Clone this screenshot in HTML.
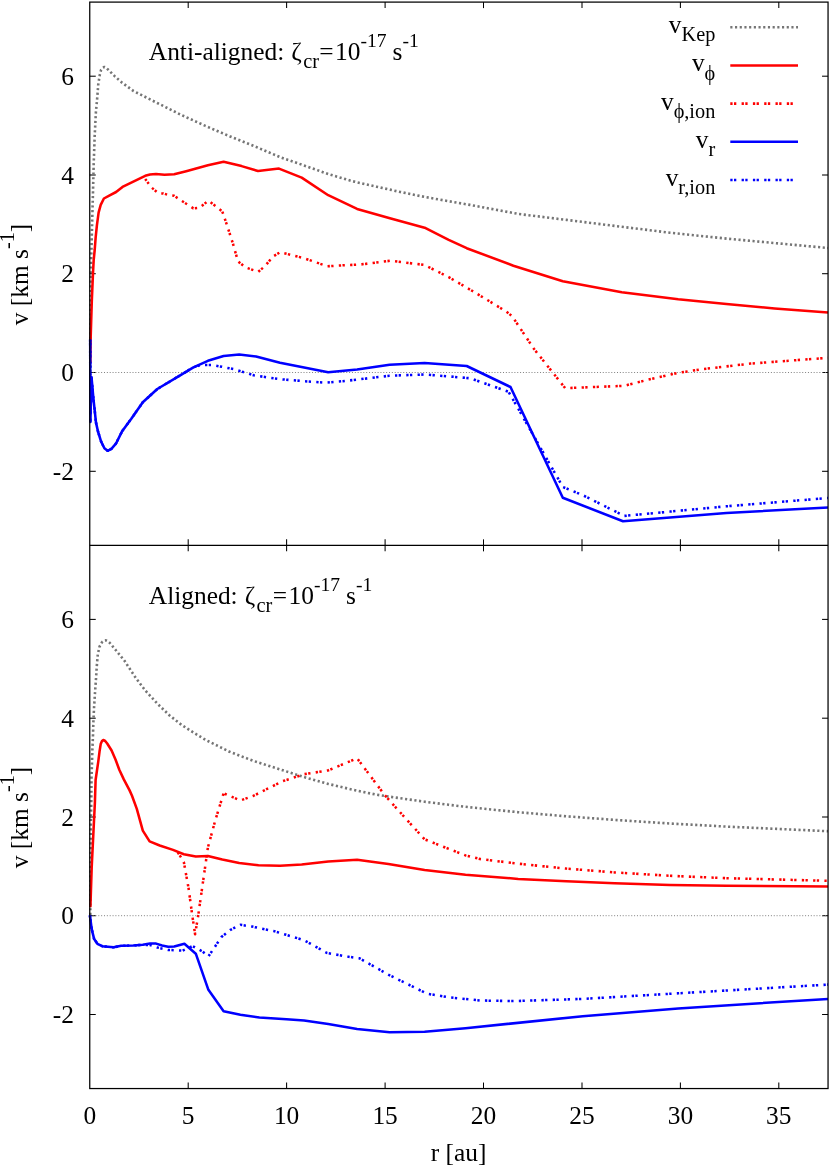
<!DOCTYPE html>
<html><head><meta charset="utf-8"><title>plot</title>
<style>
html,body{margin:0;padding:0;background:#fff;}
svg{display:block;}
text{font-family:"Liberation Serif",serif;fill:#000;}
svg{will-change:transform;}
</style></head><body>
<svg width="830" height="1170" viewBox="0 0 830 1170">
<rect x="0" y="0" width="830" height="1170" fill="#fff"/>
<defs><clipPath id="c1"><rect x="87" y="0" width="743" height="547"/></clipPath>
<clipPath id="c2"><rect x="87" y="543" width="743" height="548"/></clipPath></defs>

<line x1="188.2" y1="2.1" x2="188.2" y2="8.1" stroke="#000" stroke-width="1.05"/>
<line x1="188.2" y1="539.35" x2="188.2" y2="551.35" stroke="#000" stroke-width="1.05"/>
<line x1="188.2" y1="1082.55" x2="188.2" y2="1088.55" stroke="#000" stroke-width="1.05"/>
<line x1="286.6" y1="2.1" x2="286.6" y2="8.1" stroke="#000" stroke-width="1.05"/>
<line x1="286.6" y1="539.35" x2="286.6" y2="551.35" stroke="#000" stroke-width="1.05"/>
<line x1="286.6" y1="1082.55" x2="286.6" y2="1088.55" stroke="#000" stroke-width="1.05"/>
<line x1="385.1" y1="2.1" x2="385.1" y2="8.1" stroke="#000" stroke-width="1.05"/>
<line x1="385.1" y1="539.35" x2="385.1" y2="551.35" stroke="#000" stroke-width="1.05"/>
<line x1="385.1" y1="1082.55" x2="385.1" y2="1088.55" stroke="#000" stroke-width="1.05"/>
<line x1="483.5" y1="2.1" x2="483.5" y2="8.1" stroke="#000" stroke-width="1.05"/>
<line x1="483.5" y1="539.35" x2="483.5" y2="551.35" stroke="#000" stroke-width="1.05"/>
<line x1="483.5" y1="1082.55" x2="483.5" y2="1088.55" stroke="#000" stroke-width="1.05"/>
<line x1="582.0" y1="2.1" x2="582.0" y2="8.1" stroke="#000" stroke-width="1.05"/>
<line x1="582.0" y1="539.35" x2="582.0" y2="551.35" stroke="#000" stroke-width="1.05"/>
<line x1="582.0" y1="1082.55" x2="582.0" y2="1088.55" stroke="#000" stroke-width="1.05"/>
<line x1="680.4" y1="2.1" x2="680.4" y2="8.1" stroke="#000" stroke-width="1.05"/>
<line x1="680.4" y1="539.35" x2="680.4" y2="551.35" stroke="#000" stroke-width="1.05"/>
<line x1="680.4" y1="1082.55" x2="680.4" y2="1088.55" stroke="#000" stroke-width="1.05"/>
<line x1="778.8" y1="2.1" x2="778.8" y2="8.1" stroke="#000" stroke-width="1.05"/>
<line x1="778.8" y1="539.35" x2="778.8" y2="551.35" stroke="#000" stroke-width="1.05"/>
<line x1="778.8" y1="1082.55" x2="778.8" y2="1088.55" stroke="#000" stroke-width="1.05"/>
<line x1="89.75" y1="76.2" x2="95.75" y2="76.2" stroke="#000" stroke-width="1.05"/>
<line x1="822.05" y1="76.2" x2="828.05" y2="76.2" stroke="#000" stroke-width="1.05"/>
<text x="74" y="84.9" font-size="25.4" text-anchor="end">6</text>
<line x1="89.75" y1="175.0" x2="95.75" y2="175.0" stroke="#000" stroke-width="1.05"/>
<line x1="822.05" y1="175.0" x2="828.05" y2="175.0" stroke="#000" stroke-width="1.05"/>
<text x="74" y="183.7" font-size="25.4" text-anchor="end">4</text>
<line x1="89.75" y1="273.7" x2="95.75" y2="273.7" stroke="#000" stroke-width="1.05"/>
<line x1="822.05" y1="273.7" x2="828.05" y2="273.7" stroke="#000" stroke-width="1.05"/>
<text x="74" y="282.4" font-size="25.4" text-anchor="end">2</text>
<line x1="89.75" y1="372.5" x2="95.75" y2="372.5" stroke="#000" stroke-width="1.05"/>
<line x1="822.05" y1="372.5" x2="828.05" y2="372.5" stroke="#000" stroke-width="1.05"/>
<text x="74" y="381.2" font-size="25.4" text-anchor="end">0</text>
<line x1="89.75" y1="471.3" x2="95.75" y2="471.3" stroke="#000" stroke-width="1.05"/>
<line x1="822.05" y1="471.3" x2="828.05" y2="471.3" stroke="#000" stroke-width="1.05"/>
<text x="74" y="480.0" font-size="25.4" text-anchor="end">-2</text>
<line x1="89.75" y1="619.4" x2="95.75" y2="619.4" stroke="#000" stroke-width="1.05"/>
<line x1="822.05" y1="619.4" x2="828.05" y2="619.4" stroke="#000" stroke-width="1.05"/>
<text x="74" y="628.1" font-size="25.4" text-anchor="end">6</text>
<line x1="89.75" y1="718.2" x2="95.75" y2="718.2" stroke="#000" stroke-width="1.05"/>
<line x1="822.05" y1="718.2" x2="828.05" y2="718.2" stroke="#000" stroke-width="1.05"/>
<text x="74" y="726.9" font-size="25.4" text-anchor="end">4</text>
<line x1="89.75" y1="817.0" x2="95.75" y2="817.0" stroke="#000" stroke-width="1.05"/>
<line x1="822.05" y1="817.0" x2="828.05" y2="817.0" stroke="#000" stroke-width="1.05"/>
<text x="74" y="825.7" font-size="25.4" text-anchor="end">2</text>
<line x1="89.75" y1="915.7" x2="95.75" y2="915.7" stroke="#000" stroke-width="1.05"/>
<line x1="822.05" y1="915.7" x2="828.05" y2="915.7" stroke="#000" stroke-width="1.05"/>
<text x="74" y="924.4" font-size="25.4" text-anchor="end">0</text>
<line x1="89.75" y1="1014.5" x2="95.75" y2="1014.5" stroke="#000" stroke-width="1.05"/>
<line x1="822.05" y1="1014.5" x2="828.05" y2="1014.5" stroke="#000" stroke-width="1.05"/>
<text x="74" y="1023.2" font-size="25.4" text-anchor="end">-2</text>
<g clip-path="url(#c1)">
<line x1="89.75" y1="372.5" x2="828.05" y2="372.5" stroke="#808080" stroke-width="1" stroke-dasharray="1 1.85"/>
<polyline points="90.3,372.0 90.6,320.0 90.9,282.0 91.2,258.0 91.5,248.5 92.2,220.3 93.0,192.0 93.7,163.8 94.7,135.6 95.9,112.2 97.2,98.0 98.3,83.9 99.9,74.3 101.1,69.8 102.7,67.8 104.4,67.0 106.3,68.0 108.3,69.8 114.9,76.4 122.1,82.7 133.6,91.1 157.3,103.0 181.4,115.0 205.5,125.9 229.6,136.3 253.7,145.9 280.0,157.1 304.1,165.5 328.2,174.0 352.3,181.2 376.4,186.7 400.5,192.0 424.6,196.9 448.7,201.2 470.0,204.9 518.2,213.9 566.4,219.9 614.6,225.9 670.0,232.7 726.4,238.6 828.0,248.0" fill="none" stroke="#757575" stroke-width="2.6" stroke-linejoin="round" stroke-dasharray="2.15 2.55"/>
<polyline points="90.3,363.0 90.6,339.7 91.8,301.3 93.0,273.0 93.7,260.0 94.7,250.0 95.6,238.2 96.9,225.4 98.6,212.6 100.7,204.9 103.9,198.5 109.7,195.3 116.1,192.0 122.5,186.9 145.2,175.8 150.0,174.6 156.0,174.1 164.5,174.8 174.2,174.3 186.2,171.2 207.9,165.2 223.6,161.8 241.6,166.1 258.0,171.0 279.0,168.6 301.7,177.6 328.2,195.2 357.1,208.9 390.8,218.6 424.6,227.7 448.7,239.8 466.7,248.2 513.4,265.7 562.8,281.3 621.8,292.2 678.2,299.3 726.4,304.1 774.6,308.4 828.0,312.5" fill="none" stroke="#ff0000" stroke-width="2.55" stroke-linejoin="round" />
<polyline points="145.2,178.9 151.3,187.3 158.5,193.4 163.3,193.4 169.3,195.3 174.2,195.8 180.2,199.9 193.4,208.3 199.5,207.8 208.4,200.6 216.3,206.6 222.3,211.4 227.2,225.9 233.2,244.5 238.0,261.3 245.2,267.3 258.3,271.8 265.0,266.1 273.0,256.5 280.2,252.2 304.1,258.2 327.5,266.3 342.7,265.3 359.5,264.6 390.8,260.7 424.6,265.0 448.7,277.1 473.6,291.7 506.1,311.4 512.2,316.3 533.9,348.8 565.2,388.2 624.2,385.8 646.9,380.0 678.2,372.8 702.3,369.2 750.5,363.6 828.0,357.8" fill="none" stroke="#ff0000" stroke-width="2.55" stroke-linejoin="round" stroke-dasharray="2.3 1.4 2.3 5.3"/>
<polyline points="90.2,339.4 90.4,422.0 91.5,377.0 93.4,398.4 96.0,422.6 98.0,431.5 101.2,441.8 104.4,448.2 107.6,450.8 111.4,448.8 115.9,443.7 122.3,430.9 131.3,418.7 142.8,402.3 157.3,389.0 181.4,374.6 193.4,367.3 207.9,360.8 223.6,356.0 239.2,354.6 256.1,356.5 280.0,362.7 328.2,372.3 357.1,369.6 389.6,364.8 424.6,363.1 466.7,366.0 510.5,387.0 562.8,497.8 623.0,521.2 670.0,517.5 726.4,513.0 828.0,507.5" fill="none" stroke="#0000ff" stroke-width="2.55" stroke-linejoin="round" />
<polyline points="90.2,339.4 90.4,422.0 91.5,377.0 93.4,398.4 96.0,422.6 98.0,431.5 101.2,441.8 104.4,448.2 107.6,450.8 111.4,448.8 115.9,443.7 122.3,430.9 131.3,418.7 142.8,402.3 157.3,389.0 181.4,374.6 193.4,367.3 200.7,365.0 212.7,365.0 234.4,369.3 253.7,375.3 268.1,377.5 282.6,379.4 304.1,381.2 325.8,382.7 342.7,381.2 359.5,379.3 389.6,375.7 424.6,374.5 448.7,376.4 470.4,378.3 508.6,391.8 562.8,487.0 583.3,495.4 624.2,515.9 670.0,511.6 726.4,506.3 828.0,498.0" fill="none" stroke="#0000ff" stroke-width="2.55" stroke-linejoin="round" stroke-dasharray="2.3 1.4 2.3 5.3"/>
</g>
<g clip-path="url(#c2)">
<line x1="89.75" y1="915.7" x2="828.05" y2="915.7" stroke="#808080" stroke-width="1" stroke-dasharray="1 1.85"/>
<polyline points="90.3,915.0 90.6,870.0 90.9,820.0 91.3,800.0 91.5,777.4 92.0,763.3 92.4,749.2 93.0,735.1 93.4,721.0 94.1,706.9 95.0,692.8 96.0,678.7 96.9,664.6 97.8,654.4 99.5,646.7 102.0,642.2 104.0,640.6 105.9,640.3 107.8,641.2 109.7,642.8 116.1,650.5 124.5,660.8 135.4,677.4 145.2,690.4 157.3,703.6 169.3,715.2 181.4,724.8 193.4,732.5 205.5,739.8 229.6,751.8 253.7,761.0 280.0,769.4 304.1,777.1 328.2,783.9 352.3,789.6 376.4,794.7 400.5,798.3 424.6,801.7 448.7,804.8 470.0,807.3 518.2,812.2 566.4,816.3 614.6,819.9 670.0,823.5 726.4,826.6 828.0,831.2" fill="none" stroke="#757575" stroke-width="2.6" stroke-linejoin="round" stroke-dasharray="2.15 2.55"/>
<polyline points="90.4,907.2 91.7,867.4 93.3,835.0 94.9,802.5 95.6,780.0 96.9,771.0 98.2,762.1 99.5,751.8 100.7,744.1 102.0,741.0 103.3,740.0 105.2,741.0 107.2,743.5 111.6,750.5 115.5,759.5 119.3,769.7 123.8,779.4 129.6,790.4 132.0,795.7 136.8,808.9 142.8,830.6 149.6,841.4 159.7,845.5 173.0,849.9 183.8,854.2 195.8,856.6 207.9,855.9 222.3,859.5 239.2,863.1 258.5,865.3 280.0,865.8 301.7,864.6 328.2,861.4 357.1,859.8 388.4,863.9 424.6,869.9 465.5,874.7 518.2,878.9 566.4,881.3 614.6,883.3 670.0,884.9 726.4,885.7 828.0,886.4" fill="none" stroke="#ff0000" stroke-width="2.55" stroke-linejoin="round" />
<polyline points="177.8,852.3 183.8,861.9 188.6,888.4 192.2,914.9 195.1,934.2 198.3,914.9 203.1,881.2 207.9,847.5 215.1,821.0 223.6,793.3 232.0,796.9 240.4,800.5 253.7,795.7 268.1,788.4 282.6,781.2 304.1,774.2 328.2,770.4 357.1,758.3 384.8,795.2 405.3,818.1 424.6,839.3 443.9,847.0 465.5,855.4 480.0,859.0 518.2,863.7 566.4,868.6 614.6,872.4 670.0,875.8 726.4,878.2 828.0,880.8" fill="none" stroke="#ff0000" stroke-width="2.55" stroke-linejoin="round" stroke-dasharray="2.3 1.4 2.3 5.3"/>
<polyline points="89.9,915.3 91.7,929.1 94.1,938.9 97.4,943.8 102.2,946.2 113.6,947.3 121.1,945.8 133.2,945.5 142.8,944.8 150.0,943.4 156.1,943.6 162.1,945.5 168.1,946.7 174.2,946.5 184.4,943.7 195.8,953.7 208.4,989.8 223.6,1011.2 240.4,1014.8 259.4,1017.5 286.5,1019.3 304.1,1020.5 328.2,1024.1 357.1,1028.9 389.6,1032.3 424.6,1031.8 465.5,1028.2 582.8,1016.2 678.2,1008.4 828.0,998.9" fill="none" stroke="#0000ff" stroke-width="2.55" stroke-linejoin="round" />
<polyline points="89.9,915.3 91.7,929.1 94.1,938.9 97.4,943.8 102.2,946.2 113.6,947.3 121.1,945.8 133.2,945.5 142.8,944.8 150.0,945.0 157.3,947.5 168.1,949.9 182.6,950.6 192.5,946.1 202.5,951.5 208.4,956.4 214.2,947.9 221.4,937.1 230.5,929.8 240.4,924.8 252.2,926.6 273.9,931.1 304.1,940.2 327.0,953.0 347.5,956.6 359.5,958.3 388.4,974.7 410.1,985.3 427.0,993.7 448.7,997.3 480.0,1000.5 513.4,1001.1 582.8,998.9 678.2,993.3 828.0,984.6" fill="none" stroke="#0000ff" stroke-width="2.55" stroke-linejoin="round" stroke-dasharray="2.3 1.4 2.3 5.3"/>
</g>
<rect x="89.75" y="2.1" width="738.3" height="1086.45" stroke="#000" stroke-width="1.25" fill="none"/>
<line x1="89.75" y1="545.35" x2="828.05" y2="545.35" stroke="#000" stroke-width="1.25" fill="none"/>
<line x1="730.3" y1="27.2" x2="798" y2="27.2" stroke="#757575" stroke-width="2.6" stroke-dasharray="2.15 2.55"/>
<line x1="730.3" y1="65.4" x2="798" y2="65.4" stroke="#ff0000" stroke-width="2.55"/>
<line x1="730.3" y1="103.6" x2="798" y2="103.6" stroke="#ff0000" stroke-width="2.55" stroke-dasharray="2.3 1.4 2.3 5.3"/>
<line x1="730.3" y1="141.8" x2="798" y2="141.8" stroke="#0000ff" stroke-width="2.55"/>
<line x1="730.3" y1="180.0" x2="798" y2="180.0" stroke="#0000ff" stroke-width="2.55" stroke-dasharray="2.3 1.4 2.3 5.3"/>
<text x="715.3" y="33.1" font-size="25.4" text-anchor="end">v<tspan font-size="20.3" dy="8.2">Kep</tspan></text>
<text x="715.3" y="71.3" font-size="25.4" text-anchor="end">v<tspan font-size="20.3" dy="8.2">ϕ</tspan></text>
<text x="715.3" y="109.5" font-size="25.4" text-anchor="end">v<tspan font-size="20.3" dy="8.2">ϕ,ion</tspan></text>
<text x="715.3" y="147.7" font-size="25.4" text-anchor="end">v<tspan font-size="20.3" dy="8.2">r</tspan></text>
<text x="715.3" y="185.9" font-size="25.4" text-anchor="end">v<tspan font-size="20.3" dy="8.2">r,ion</tspan></text>
<text x="89.8" y="1123.6" font-size="25.4" text-anchor="middle">0</text>
<text x="188.2" y="1123.6" font-size="25.4" text-anchor="middle">5</text>
<text x="286.6" y="1123.6" font-size="25.4" text-anchor="middle">10</text>
<text x="385.1" y="1123.6" font-size="25.4" text-anchor="middle">15</text>
<text x="483.5" y="1123.6" font-size="25.4" text-anchor="middle">20</text>
<text x="582.0" y="1123.6" font-size="25.4" text-anchor="middle">25</text>
<text x="680.4" y="1123.6" font-size="25.4" text-anchor="middle">30</text>
<text x="778.8" y="1123.6" font-size="25.4" text-anchor="middle">35</text>
<text x="458.6" y="1161" font-size="25.4" text-anchor="middle">r [au]</text>
<text transform="translate(27.5,274.5) rotate(-90)" font-size="25.4" text-anchor="middle">v [km s<tspan font-size="20.3" dy="-13.5">-1</tspan><tspan dy="13.5">]</tspan></text>
<text transform="translate(27.5,817.5) rotate(-90)" font-size="25.4" text-anchor="middle">v [km s<tspan font-size="20.3" dy="-13.5">-1</tspan><tspan dy="13.5">]</tspan></text>
<text x="148.8" y="60" font-size="25.4">Anti-aligned: <tspan dx="0.8">ζ</tspan><tspan font-size="20.3" dy="7.6" dx="1.3">cr</tspan><tspan dy="-7.6" dx="0.3">=</tspan><tspan dx="1.5">10</tspan><tspan font-size="19.6" dy="-13.3">-17</tspan><tspan dy="13.3" dx="-0.3"> s</tspan><tspan font-size="19.6" dy="-13.3" dx="0.1">-1</tspan></text>
<text x="148.8" y="604" font-size="25.4">Aligned: <tspan dx="0.8">ζ</tspan><tspan font-size="20.3" dy="7.6" dx="1.3">cr</tspan><tspan dy="-7.6" dx="0.3">=</tspan><tspan dx="1.5">10</tspan><tspan font-size="19.6" dy="-13.3">-17</tspan><tspan dy="13.3" dx="-0.3"> s</tspan><tspan font-size="19.6" dy="-13.3" dx="0.1">-1</tspan></text>
</svg></body></html>
